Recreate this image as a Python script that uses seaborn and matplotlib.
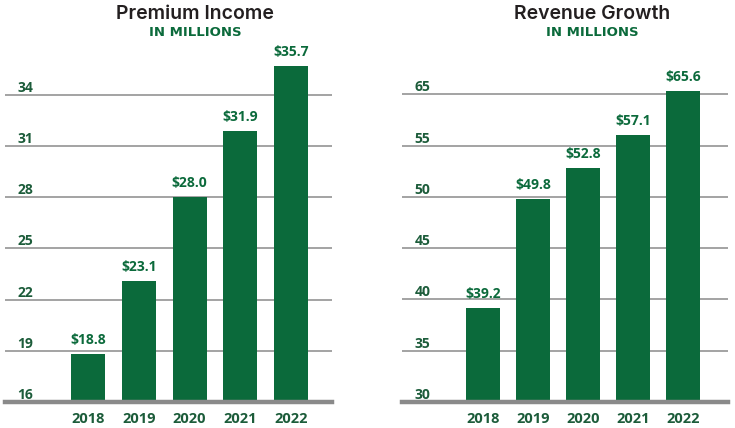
import matplotlib
matplotlib.use("Agg")
import matplotlib.pyplot as plt
import seaborn as sns
import numpy as np
import pandas as pd

years = ["2018", "2019", "2020", "2021", "2022"]
premium_income = [18.8, 23.1, 28.0, 31.9, 35.7]
revenue_growth = [39.2, 49.8, 52.8, 57.1, 65.6]
premium_ticks = [16, 19, 22, 25, 28, 31, 34]
revenue_ticks = [30, 35, 40, 45, 50, 55, 65]
titles = ["Premium Income", "Revenue Growth"]
subtitle = "IN MILLIONS"

GREEN = "#0b6a3b"
LABEL_GREEN = "#1c5c3a"
GRID = "#9c9c9c"
BASE = "#8a8a8a"
TITLE_C = "#231f20"

sns.set_theme(style="white")
plt.rcParams['font.family'] = ['Open Sans', 'DejaVu Sans']

W, H = 735, 428
fig = plt.figure(figsize=(W / 100, H / 100), dpi=100)


def axes_px(x0, x1, ytop, ybot):
    return fig.add_axes([x0 / W, 1 - ybot / H, (x1 - x0) / W, (ybot - ytop) / H])


ax1 = axes_px(5, 332, 35, 402)
ax2 = axes_px(402, 728, 35, 402)


# designer's axis on the right chart: the step 55 -> 65 takes the same height as 5 units
def fwd(y):
    y = np.asarray(y, float)
    return np.where(y <= 55, y, 55 + (y - 55) / 2)


def inv(t):
    t = np.asarray(t, float)
    return np.where(t <= 55, t, 55 + (t - 55) * 2)


ax2.set_yscale('function', functions=(fwd, inv))

specs = [
    (ax1, premium_income, premium_ticks, (16, 37.5), (-1.64, 4.81), titles[0], 195),
    (ax2, revenue_growth, revenue_ticks, (30, 76.6), (-1.62, 4.9), titles[1], 592),
]

for ax, vals, ticks, ylim, xlim, title, cx in specs:
    df = pd.DataFrame({"year": years, "value": vals})
    sns.barplot(data=df, x="year", y="value", color=GREEN, saturation=1,
                width=0.67, linewidth=0, ax=ax, zorder=2)
    ax.set_ylim(*ylim)
    ax.set_xlim(*xlim)
    ax.set_yticks(ticks)
    ax.set_yticklabels([str(t) for t in ticks])
    ax.set_xlabel("")
    ax.set_ylabel("")
    ax.set_axisbelow(True)
    ax.yaxis.grid(True, color=GRID, lw=1.3)
    ax.xaxis.grid(False)
    for s in ["left", "right", "top"]:
        ax.spines[s].set_visible(False)
    ax.spines["bottom"].set_color(BASE)
    ax.spines["bottom"].set_linewidth(3.2)
    ax.spines["bottom"].set_zorder(3)
    ax.tick_params(axis='y', length=0, pad=-9)
    ax.tick_params(axis='x', length=0, pad=7)
    for lab in ax.get_yticklabels():
        lab.set_ha('left')
        lab.set_va('bottom')
        lab.set_fontsize(10)
        lab.set_fontweight('bold')
        lab.set_color(LABEL_GREEN)
    for lab in ax.get_xticklabels():
        lab.set_fontsize(10.5)
        lab.set_fontweight('bold')
        lab.set_color(LABEL_GREEN)
    ax.bar_label(ax.containers[0], labels=[f"${v:.1f}" for v in vals],
                 padding=5, fontsize=10, fontweight='bold', color=GREEN)
    ax.patch.set_alpha(0)
    fig.text(cx / W, 1 - 14 / H, title, ha='center', va='center',
             fontsize=14, fontweight='semibold', color=TITLE_C,
             family=['Inter', 'DejaVu Sans'])
    fig.text(cx / W, 1 - 33 / H, subtitle, ha='center', va='center',
             fontsize=9.5, fontweight='bold', color=GREEN,
             family=['DejaVu Sans'])

fig.savefig("out.png", dpi=100)
